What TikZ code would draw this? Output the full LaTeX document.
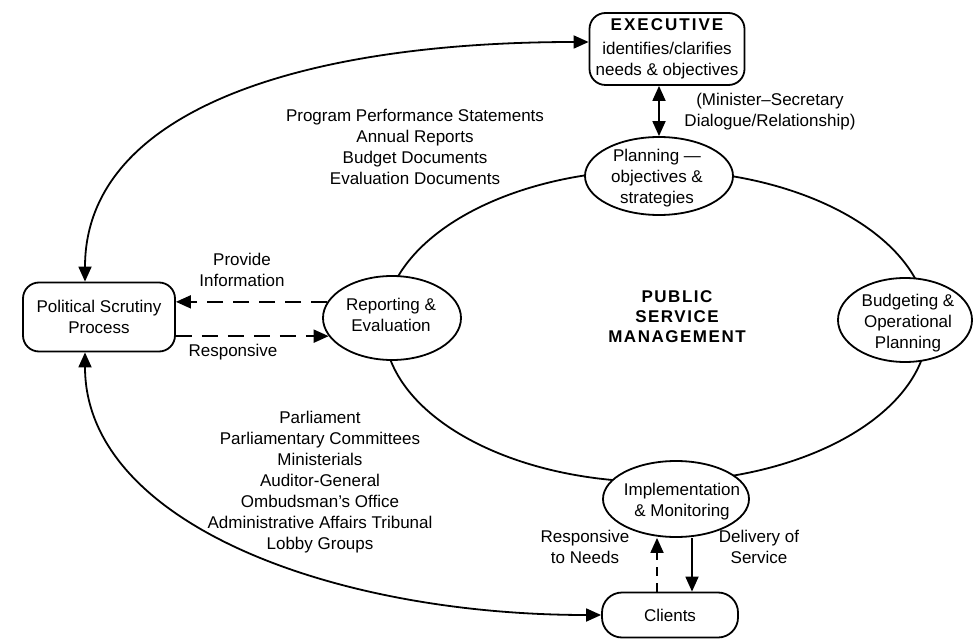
\documentclass[tikz,border=0pt]{standalone}
\usepackage{fontspec}
\setmainfont{Liberation Sans}
\usetikzlibrary{arrows.meta,shapes.geometric,calc}
\begin{document}
\begin{tikzpicture}[x=1pt,y=-1pt,
  line width=1.8pt,
  every node/.style={font=\fontsize{17}{21}\selectfont, align=center, inner sep=0pt},
  tip/.style={-{Triangle[length=15pt,width=13pt]}},
  tips/.style={{Triangle[length=15pt,width=13pt]}-{Triangle[length=15pt,width=13pt]}},
  rbox/.style={draw, fill=white, rounded corners=16pt},
  ell/.style={draw, fill=white, ellipse},
  dsh/.style={dash pattern=on 16pt off 10pt},
  sp/.style={font=\fontsize{17}{20}\selectfont\bfseries\addfontfeature{LetterSpace=9}}
]
\useasboundingbox (0,0) rectangle (974,644);

% big cycle
\node[draw, ellipse, minimum width=544pt, minimum height=312pt] (psm) at (656,326) {};
\node[sp] (psmT) at (677,317) {PUBLIC\\SERVICE\\MANAGEMENT};

% nodes on the cycle
\node[ell, minimum width=148pt, minimum height=78pt] (plan) at (659,176) {};
\node (planT) at (657,178) {Planning —\\objectives \&\\strategies};
\node[ell, minimum width=134pt, minimum height=84pt] (bud) at (905,320) {};
\node (budT) at (908,323) {Budgeting \&\\Operational\\Planning};
\node[ell, minimum width=146pt, minimum height=76pt] (impl) at (676,499) {};
\node (implT) at (682,502) {Implementation\\\& Monitoring};
\node[ell, minimum width=138pt, minimum height=84pt] (rep) at (392,318) {};
\node (repT) at (391,315) {Reporting \&\\Evaluation};

% boxes
\node[rbox, minimum width=155pt, minimum height=72pt] (exec) at (667,49)
  {{\bfseries\addfontfeature{LetterSpace=12}EXECUTIVE}\\[3pt]identifies/clarifies\\needs \& objectives};
\node[rbox, minimum width=152pt, minimum height=69pt] (pol) at (99,317)
  {Political Scrutiny\\Process};
\node[rbox, rounded corners=20pt, minimum width=136pt, minimum height=45pt] (cli) at (670,615)
  {Clients};

% connectors
\draw[tips] (exec.south -| plan.north) -- (plan.north);
\node (minT) at (770,112) {(Minister–Secretary\\Dialogue/Relationship)};

\draw[tips] ([xshift=-14pt]pol.north) .. controls +(0,-170) and +(-290,0) .. ([yshift=7pt]exec.west);
\draw[tips] ([xshift=-14pt]pol.south) .. controls +(0,170) and +(-270,0) .. (cli.west);

\draw[tip, dsh] (rep.166) -- (rep.166 -| pol.east);
\draw[tip, dsh] (rep.196 -| pol.east) -- (rep.196);
\node (provT) at (242,270) {Provide\\Information};
\node (respT) at (233,352) {Responsive};

\draw[tip, dash pattern=on 9pt off 7pt] ([xshift=-13pt]cli.north) -- ([xshift=-13pt]cli.north |- impl.south);
\draw[tip] ([xshift=22pt]cli.north |- impl.south) -- ([xshift=22pt]cli.north);
\node (needT) at (585,547) {Responsive\\to Needs};
\node (delT) at (759,547) {Delivery of\\Service};

% text lists
\node (docT) at (415,147) {Program Performance Statements\\Annual Reports\\Budget Documents\\Evaluation Documents};
\node (listT) at (320,482) {Parliament\\Parliamentary Committees\\Ministerials\\Auditor-General\\Ombudsman's Office\\Administrative Affairs Tribunal\\Lobby Groups};
\end{tikzpicture}
\end{document}
